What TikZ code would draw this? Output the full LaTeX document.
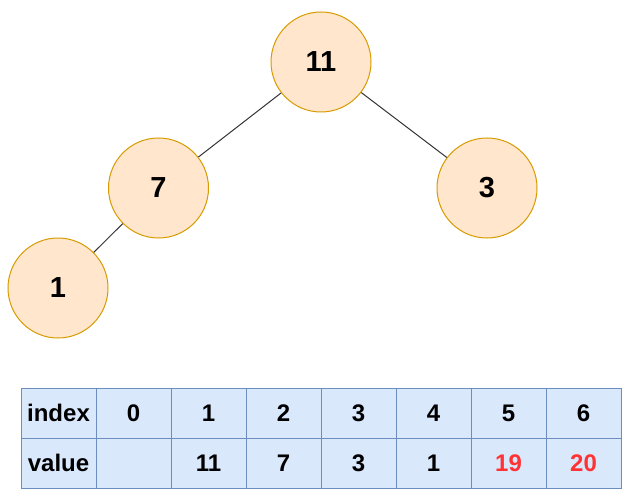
\documentclass[tikz,border=0pt]{standalone}
\usepackage{fontspec}
\setmainfont{Liberation Sans}
\begin{document}
\begin{tikzpicture}[x=1pt,y=-1pt,
  treenode/.style={circle,draw=nodeline,fill=nodefill,line width=1pt,minimum size=100pt,inner sep=0pt,font=\fontsize{29}{30}\selectfont\bfseries},
  cell/.style={rectangle,draw=cellline,fill=cellfill,line width=1pt,minimum width=75pt,minimum height=50pt,inner sep=0pt,font=\fontsize{24}{26}\selectfont\bfseries},
  edge/.style={draw=edgeline,line width=1pt}]
\definecolor{nodefill}{HTML}{FFE6CC}
\definecolor{nodeline}{HTML}{D79B00}
\definecolor{cellfill}{HTML}{DAE8FC}
\definecolor{cellline}{HTML}{6C8EBF}
\definecolor{edgeline}{HTML}{333333}
\definecolor{redtxt}{HTML}{FF3333}
\useasboundingbox (0,0) rectangle (636,497);
\node[treenode] (n11) at (321,62) {11};
\node[treenode] (n7) at (158.5,188) {7};
\node[treenode] (n3) at (487,188) {3};
\node[treenode] (n1) at (58,288) {1};
\draw[edge] (n11) -- (n7);
\draw[edge] (n11) -- (n3);
\draw[edge] (n7) -- (n1);
% table
\node[cell] (i0) at (58.5,413) {index};
\node[cell] (i1) at (133.5,413) {0};
\node[cell] (i2) at (208.5,413) {1};
\node[cell] (i3) at (283.5,413) {2};
\node[cell] (i4) at (358.5,413) {3};
\node[cell] (i5) at (433.5,413) {4};
\node[cell] (i6) at (508.5,413) {5};
\node[cell] (i7) at (583.5,413) {6};
\node[cell] (v0) at (58.5,463) {value};
\node[cell] (v1) at (133.5,463) {};
\node[cell] (v2) at (208.5,463) {11};
\node[cell] (v3) at (283.5,463) {7};
\node[cell] (v4) at (358.5,463) {3};
\node[cell] (v5) at (433.5,463) {1};
\node[cell,text=redtxt] (v6) at (508.5,463) {19};
\node[cell,text=redtxt] (v7) at (583.5,463) {20};
\end{tikzpicture}
\end{document}
